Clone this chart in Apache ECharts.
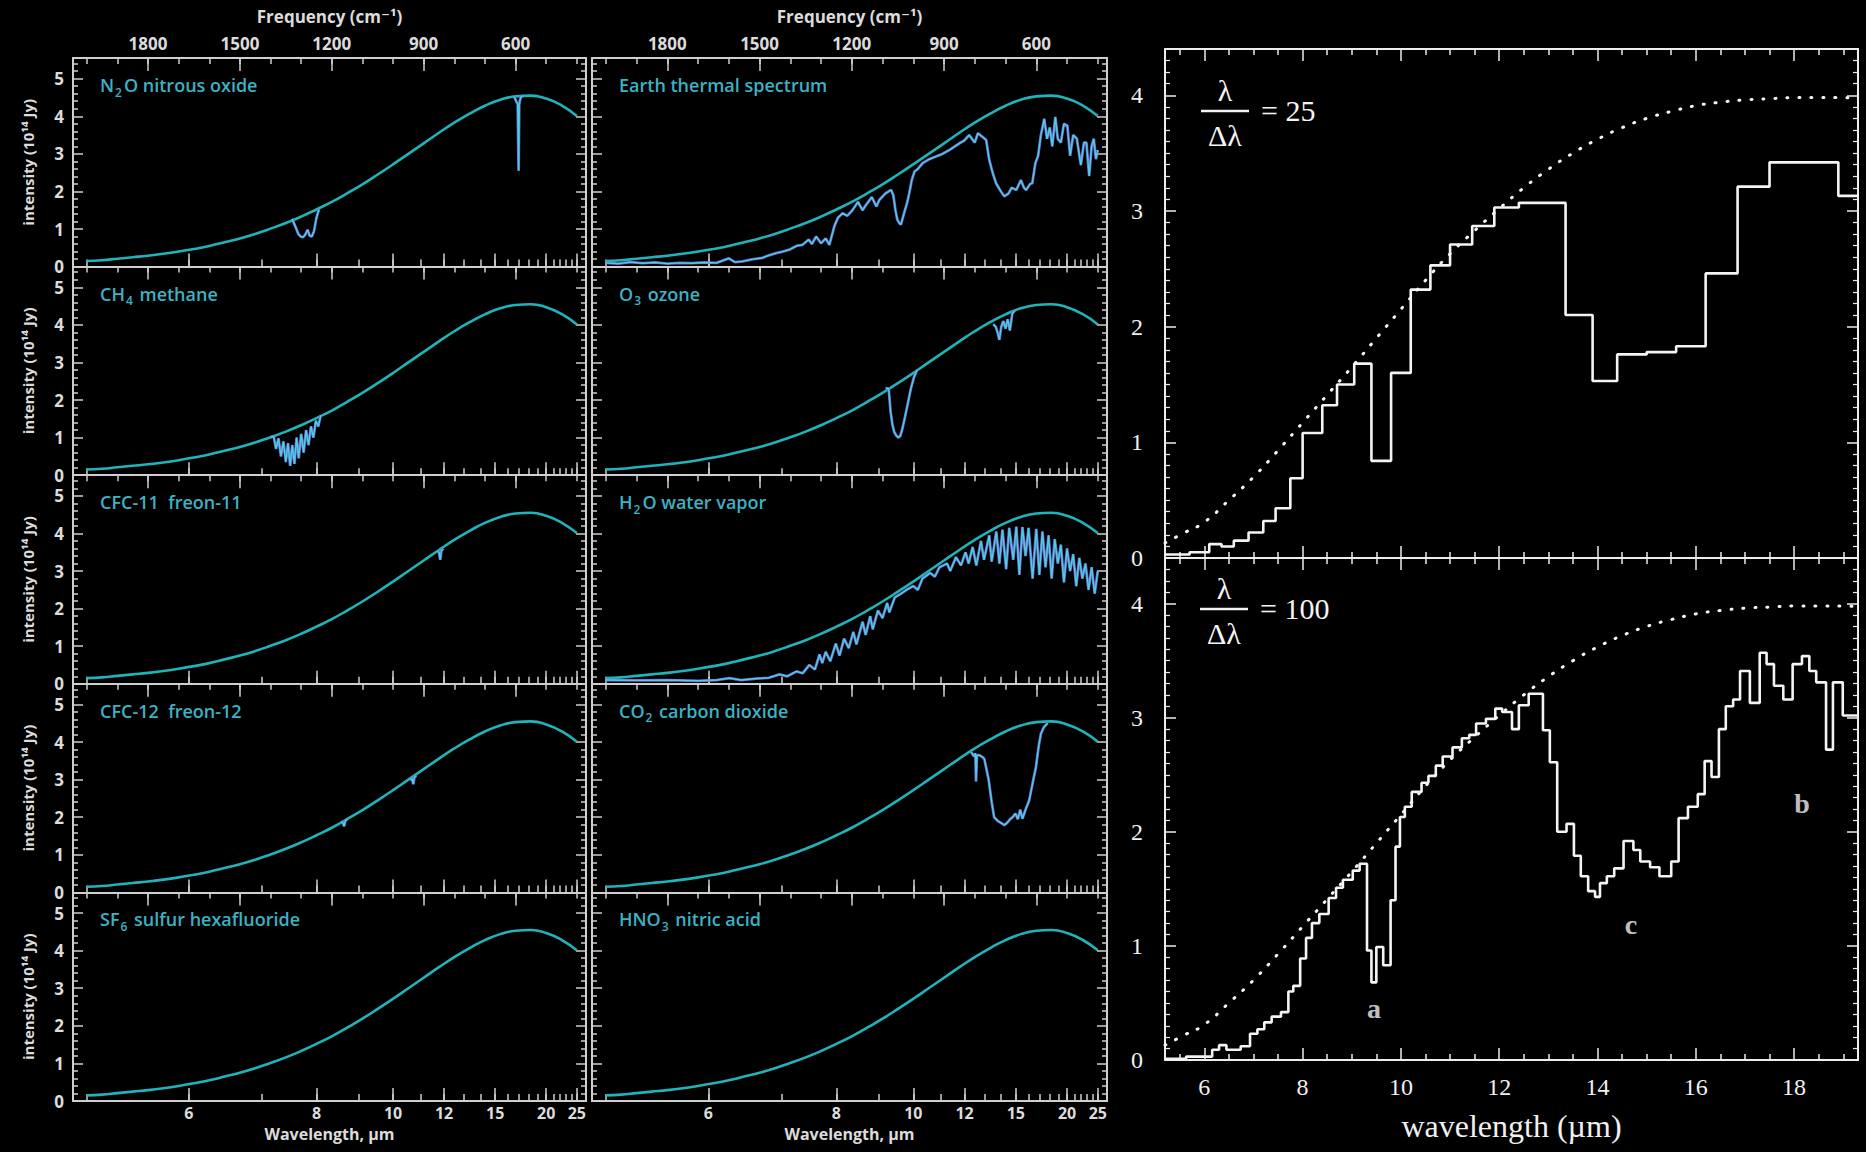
<!DOCTYPE html>
<html>
<head>
<meta charset="utf-8">
<script src="https://cdn.jsdelivr.net/npm/echarts@6/dist/echarts.min.js"></script>
<style>
html,body{margin:0;padding:0;background:#000;}
#c{width:1866px;height:1152px;}
</style>
</head>
<body>
<div id="c"></div>
<script>
// ---------------- DATA ----------------
// Left two columns: x = frequency (cm^-1), y = intensity
const wavenumber = [400,450,500,550,600,650,700,750,800,850,900,950,1000,1050,1100,1150,1200,1250,1300,1350,1400,1450,1500,1550,1600,1650,1700,1750,1800,1850,1900,1950,2000];
const blackbodyIntensity = [4.01,4.29,4.47,4.55,4.53,4.44,4.28,4.07,3.83,3.56,3.28,3.00,2.72,2.45,2.19,1.95,1.72,1.52,1.33,1.16,1.01,0.87,0.75,0.65,0.55,0.47,0.40,0.34,0.29,0.25,0.21,0.17,0.15];

// absorption features (null separates bands)
const n2oFreq = [1330,1318,1310,1302,1294,1286,1279,1272,1265,1258,1250,1242,null,604,597,593,590,588,586,582,575];
const n2oIntensity = [1.27,1.05,0.88,0.8,0.78,0.86,0.98,0.82,0.8,0.95,1.3,1.52,null,4.52,4.38,4.33,2.55,4.3,4.42,4.52,4.54];

const earthFreq = [2000,1960,1920,1880,1840,1800,1760,1720,1680,1640,1600,1580,1556,1520,1491,1470,1446,1425,1403,1380,1360,1340,1330,1316,1300,1285,1273,1257,1245,1230,1215,1198,1180,1165,1153,1135,1120,1110,1090,1072,1065,1058,1052,1045,1040,1030,1020,1013,1005,996,985,970,950,926,905,883,865,850,835,818,800,790,775,763,753,742,731,715,704,690,680,665,650,640,633,620,613,603,594,585,574,565,556,548,538,530,520,510,499,490,480,468,455,445,437,428,420,413,406,400];
const earthIntensity = [0.1,0.08,0.12,0.09,0.11,0.08,0.1,0.09,0.11,0.1,0.22,0.12,0.14,0.2,0.23,0.3,0.36,0.4,0.45,0.55,0.58,0.72,0.6,0.8,0.62,0.75,0.58,1.07,1.3,1.42,1.35,1.5,1.72,1.5,1.65,1.85,1.6,1.78,1.95,2.04,1.9,1.5,1.25,1.15,1.12,1.42,1.7,1.96,2.3,2.53,2.6,2.75,2.85,2.93,3.0,3.1,3.2,3.28,3.35,3.5,3.3,3.55,3.45,3.37,2.84,2.5,2.22,2.0,1.87,1.95,2.1,2.04,2.3,2.1,2.04,2.2,2.22,2.75,2.95,3.5,3.93,3.4,3.7,3.2,3.98,3.4,3.3,3.8,3.75,2.95,3.5,3.4,2.7,3.3,3.3,2.41,3.2,3.4,2.86,3.1];

const ch4Freq = [1400,1390,1382,1374,1366,1358,1350,1343,1336,1329,1322,1315,1308,1300,1292,1284,1276,1268,1260,1252,1244,1236];
const ch4Intensity = [1.01,1.04,0.7,0.98,0.5,0.9,0.35,0.85,0.25,0.8,0.3,1.0,0.45,1.1,0.6,1.2,0.8,1.3,1.0,1.45,1.3,1.6];

const o3Freq = [1090,1080,1074,1068,1062,1055,1048,1042,1035,1027,1018,1008,998,988,null,740,732,726,720,714,707,700,693,686,678,670];
const o3Intensity = [2.32,2.3,1.7,1.35,1.15,1.05,1.0,1.05,1.25,1.55,1.9,2.3,2.6,2.8,null,4.02,3.95,3.8,3.6,3.95,4.1,3.9,4.15,3.85,4.3,4.38];

const cfc11Freq = [856,850,846,842,836];
const cfc11Intensity = [3.53,3.5,3.3,3.55,3.59];

const h2oFreq = [2000,1900,1800,1700,1640,1598,1560,1510,1470,1435,1410,1380,1360,1338,1320,1305,1296,1285,1270,1252,1240,1225,1210,1195,1185,1165,1155,1140,1132,1115,1100,1085,1078,1060,1040,1022,1000,985,970,945,930,915,890,880,861,845,830,820,807,795,780,770,753,745,730,720,710,698,688,675,665,655,645,635,625,612,600,590,580,570,560,550,540,530,520,510,500,490,480,470,460,450,440,430,420,410,400];
const h2oIntensity = [0.1,0.09,0.1,0.08,0.1,0.15,0.1,0.14,0.16,0.25,0.2,0.33,0.28,0.5,0.38,0.78,0.55,0.85,0.6,1.07,0.75,1.2,0.95,1.38,1.05,1.65,1.3,1.8,1.45,1.95,1.75,2.15,1.9,2.3,2.4,2.5,2.6,2.5,2.8,2.95,2.85,3.1,3.2,3.0,3.37,3.15,3.5,3.2,3.64,3.15,3.8,3.3,3.95,3.25,4.05,3.2,4.1,3.05,4.15,3.3,4.18,2.9,4.17,3.4,4.15,2.8,4.12,2.9,4.05,3.1,3.95,2.8,3.85,3.2,3.7,2.7,3.6,3.0,3.45,2.6,3.35,2.8,3.2,2.5,3.1,2.4,3.0];

const cfc12Freq = [1170,1164,1160,1156,1150,null,945,938,934,930,924];
const cfc12Intensity = [1.88,1.86,1.76,1.9,1.95,null,3.0,3.02,2.88,3.07,3.1];

const co2Freq = [812,802,798,796,793,785,775,769,755,745,737,725,715,704,695,685,677,668,660,652,645,635,623,612,601,592,585,575,563];
const co2Intensity = [3.73,3.62,3.7,2.95,3.65,3.65,3.6,3.55,3.0,2.4,2.0,1.9,1.85,1.79,1.85,1.95,2.0,2.1,1.95,2.2,1.96,2.2,2.45,2.9,3.34,3.9,4.22,4.4,4.5];

const panelLabels = [
  '{t|N}{s|2}{t|O nitrous oxide}',
  '{t|Earth thermal spectrum}',
  '{t|CH}{s|4}{t| methane}',
  '{t|O}{s|3}{t| ozone}',
  '{t|CFC-11  freon-11}',
  '{t|H}{s|2}{t|O water vapor}',
  '{t|CFC-12  freon-12}',
  '{t|CO}{s|2}{t| carbon dioxide}',
  '{t|SF}{s|6}{t| sulfur hexafluoride}',
  '{t|HNO}{s|3}{t| nitric acid}'
];

// tick labels
const wavelengthLabelTicks = [6,8,10,12,15,20,25];
const wavelengthSmallTicks = [5,6,7,8,9,10,11,12,13,14,15,16,17,18,19,20,21,22,23,24,25];
const frequencyLabelTicks = [1800,1500,1200,900,600];
const frequencySmallTicks = [2000,1900,1800,1700,1600,1500,1400,1300,1200,1100,1000,900,800,700,600,500,400];

// Right chart: x = wavelength (µm)
const rightMajorTicks = [6,8,10,12,14,16,18];
const rightMinorTicks = [5.5,6.5,7,7.5,8.5,9,9.5,10.5,11,11.5,12.5,13,13.5,14.5,15,15.5,16.5,17,17.5,18.5,19];

const bbWave = [5.2,5.6,6,6.5,7,7.5,8,8.5,9,9.5,10,10.5,11,11.5,12,12.5,13,13.5,14,14.5,15,15.5,16,16.5,17,17.5,18,18.5,19,19.3];
const bbIntensity = [0.13,0.22,0.31,0.5,0.7,0.93,1.17,1.41,1.65,1.9,2.15,2.4,2.63,2.83,3.02,3.2,3.36,3.5,3.62,3.72,3.8,3.86,3.91,3.94,3.96,3.97,3.98,3.98,3.98,3.97];

const edgesR25 = [5.2,5.7,6.1,6.35,6.6,6.9,7.2,7.45,7.75,8.0,8.4,8.7,9.05,9.4,9.8,10.2,10.6,11.0,11.45,11.9,12.4,13.35,13.9,14.4,15.0,15.6,16.2,16.85,17.5,18.9,19.3];
const levelsR25 = [0.03,0.05,0.12,0.1,0.15,0.22,0.32,0.43,0.69,1.08,1.32,1.5,1.68,0.84,1.6,2.32,2.53,2.71,2.87,3.03,3.07,2.1,1.53,1.76,1.78,1.83,2.46,3.21,3.42,3.13];

const edgesR100 = [5.2,5.63,6.16,6.30,6.45,6.74,6.93,7.08,7.22,7.37,7.56,7.71,7.81,7.95,8.07,8.19,8.34,8.53,8.68,8.82,9.02,9.16,9.31,9.40,9.50,9.64,9.79,9.89,9.98,10.08,10.22,10.42,10.56,10.71,10.85,11.05,11.24,11.39,11.53,11.73,11.92,12.06,12.26,12.40,12.60,12.89,13.03,13.18,13.37,13.52,13.66,13.81,13.95,14.05,14.19,14.34,14.53,14.73,14.87,15.07,15.26,15.50,15.65,15.84,16.04,16.18,16.32,16.47,16.61,16.76,16.90,17.10,17.30,17.44,17.59,17.78,17.97,18.16,18.31,18.45,18.65,18.79,18.99,19.3];
const levelsR100 = [0.01,0.03,0.09,0.13,0.09,0.12,0.23,0.27,0.33,0.38,0.42,0.6,0.65,0.89,1.07,1.2,1.28,1.42,1.51,1.58,1.66,1.72,0.96,0.68,0.99,0.83,1.4,1.87,2.13,2.22,2.35,2.43,2.49,2.58,2.66,2.74,2.82,2.85,2.95,2.99,3.08,3.05,2.9,3.11,3.21,2.89,2.61,2.0,2.07,1.79,1.61,1.48,1.43,1.55,1.61,1.68,1.92,1.84,1.74,1.69,1.61,1.74,2.12,2.22,2.33,2.62,2.48,2.9,3.1,3.16,3.41,3.13,3.57,3.47,3.28,3.16,3.47,3.54,3.41,3.31,2.72,3.31,3.02];

const annotationLetters = ['a','c','b'];
const annotationWave = [9.45,14.68,18.16];
const annotationIntensity = [0.45,1.19,2.25];

// ---------------- CHART ----------------
const FREQ_MIN = 370, FREQ_MAX = 2045;
const LAMBDA_MIN = 5.2, LAMBDA_MAX = 19.3;
const sans = '"Open Sans", "DejaVu Sans", sans-serif';
const serif = '"Liberation Serif", "DejaVu Serif", serif';
const frameL = '#cfcfcf';
const frameR = '#ededed';
const textL = '#dcdcdc';
const labelColor = '#3cb2c6';
const toWn = um => 10000 / um;

const panelSpectra = [
  [n2oFreq, n2oIntensity], [earthFreq, earthIntensity],
  [ch4Freq, ch4Intensity], [o3Freq, o3Intensity],
  [cfc11Freq, cfc11Intensity], [h2oFreq, h2oIntensity],
  [cfc12Freq, cfc12Intensity], [co2Freq, co2Intensity],
  null, null
];

function segments(fr, iv) {
  const out = []; let cur = [];
  fr.forEach((f, i) => {
    if (f === null) { if (cur.length) out.push(cur); cur = []; }
    else cur.push([f, iv[i]]);
  });
  if (cur.length) out.push(cur);
  return out;
}
function stepData(edges, levels) {
  const d = levels.map((v, i) => [edges[i], v]);
  d.push([edges[edges.length - 1], levels[levels.length - 1]]);
  return d;
}

const grid = [], xAxis = [], yAxis = [], series = [], title = [];
const PANEL_TOP = 58, PANEL_H = 208.6;

function tickAxis(g, pos, min, max, inverse, ticks, len, color, withLine, label, name, nameGap, nameStyle) {
  return {
    gridIndex: g, type: 'value', position: pos, min: min, max: max, inverse: inverse,
    axisLine: { show: withLine, onZero: false, lineStyle: { color: color, width: 2 } },
    axisTick: { show: true, inside: true, length: len, customValues: ticks, lineStyle: { color: color, width: 1.5 } },
    axisLabel: label || { show: false },
    splitLine: { show: false },
    name: name || '', nameLocation: 'middle', nameGap: nameGap || 0, nameTextStyle: nameStyle || {}
  };
}

for (let p = 0; p < 10; p++) {
  const r = Math.floor(p / 2), c = p % 2;
  const left = c === 0 ? 73 : 592;
  const width = c === 0 ? 513 : 515;
  const top = PANEL_TOP + r * PANEL_H;
  grid.push({ left: left, top: top, width: width, height: PANEL_H, containLabel: false });

  const wlTicks = wavelengthLabelTicks.map(toWn);
  // bottom: wavelength ticks (labels on last row)
  xAxis.push(tickAxis(p, 'bottom', FREQ_MIN, FREQ_MAX, true, wlTicks, 13, frameL, true,
    r === 4 ? { show: true, customValues: wlTicks, formatter: v => String(Math.round(10000 / v)),
                color: textL, fontSize: 16, fontWeight: 'bold', fontFamily: sans, margin: 3, lineHeight: 18 } : { show: false },
    r === 4 ? 'Wavelength, µm' : '', 24,
    { color: textL, fontSize: 16, fontWeight: 'bold', fontFamily: sans, lineHeight: 18 }));
  xAxis.push(tickAxis(p, 'bottom', FREQ_MIN, FREQ_MAX, true, wavelengthSmallTicks.map(toWn), 7, frameL, false));
  // top: frequency ticks (labels on first row)
  xAxis.push(tickAxis(p, 'top', FREQ_MIN, FREQ_MAX, true, frequencyLabelTicks, 13, frameL, true,
    r === 0 ? { show: true, customValues: frequencyLabelTicks, formatter: v => String(Math.round(v)),
                color: textL, fontSize: 17, fontWeight: 'bold', fontFamily: sans, margin: 6 } : { show: false },
    r === 0 ? 'Frequency (cm⁻¹)' : '', 33,
    { color: textL, fontSize: 17, fontWeight: 'bold', fontFamily: sans }));
  xAxis.push(tickAxis(p, 'top', FREQ_MIN, FREQ_MAX, true, frequencySmallTicks, 6, frameL, false));

  const yCommon = {
    gridIndex: p, type: 'value', min: 0, max: 5.55, interval: 1,
    axisLine: { show: true, onZero: false, lineStyle: { color: frameL, width: 2 } },
    axisTick: { show: true, inside: true, length: 10, lineStyle: { color: frameL, width: 1.5 } },
    minorTick: { show: true, splitNumber: 5, length: 5, lineStyle: { color: frameL, width: 1.5 } },
    splitLine: { show: false }, minorSplitLine: { show: false }
  };
  yAxis.push(Object.assign({}, yCommon, {
    position: 'left',
    axisLabel: { show: c === 0, showMaxLabel: false, formatter: v => (Math.abs(v - Math.round(v)) < 1e-6 ? String(v) : ''),
                 color: textL, fontSize: 17, fontWeight: 'bold', fontFamily: sans, margin: 9 },
    name: c === 0 ? 'intensity (10¹⁴ Jy)' : '', nameLocation: 'middle', nameGap: 38, nameRotate: 90,
    nameTextStyle: { color: textL, fontSize: 15, fontWeight: 'bold', fontFamily: sans }
  }));
  yAxis.push(Object.assign({}, yCommon, { position: 'right', axisLabel: { show: false } }));

  title.push({
    text: panelLabels[p], left: left + 27, top: top + 18, padding: 0,
    textStyle: { rich: {
      t: { fontSize: 18, fontWeight: 600, color: labelColor, fontFamily: sans, lineHeight: 22, verticalAlign: 'top' },
      s: { fontSize: 12, fontWeight: 600, color: labelColor, fontFamily: sans, lineHeight: 12, verticalAlign: 'bottom', padding: [12, 2, 0, 1] }
    } }
  });

  series.push({
    type: 'line', xAxisIndex: p * 4, yAxisIndex: p * 2, silent: true,
    data: wavenumber.map((w, i) => [w, blackbodyIntensity[i]]),
    smooth: true, showSymbol: false, z: 3,
    lineStyle: { color: '#1fb4b9', width: 2.6 }
  });
  const spec = panelSpectra[p];
  if (spec) {
    segments(spec[0], spec[1]).forEach(seg => {
      series.push({ type: 'line', xAxisIndex: p * 4, yAxisIndex: p * 2, silent: true, data: seg,
        showSymbol: false, z: 4, lineStyle: { color: '#7a62d4', width: 2.8, opacity: 0.95 } });
      series.push({ type: 'line', xAxisIndex: p * 4, yAxisIndex: p * 2, silent: true, data: seg,
        showSymbol: false, z: 5, lineStyle: { color: '#45d3e0', width: 1.4 } });
    });
  }
}

// Right chart: two stacked panels
const rightGrids = [{ top: 49, height: 509 }, { top: 558, height: 502 }];
rightGrids.forEach((rg, k) => {
  const g = 10 + k;
  grid.push({ left: 1165, width: 693, top: rg.top, height: rg.height, containLabel: false });
  const last = k === 1;
  xAxis.push(tickAxis(g, 'bottom', LAMBDA_MIN, LAMBDA_MAX, false, rightMajorTicks, 12, frameR, true,
    last ? { show: true, customValues: rightMajorTicks, color: '#f0f0f0', fontSize: 24, fontFamily: serif, margin: 15 } : { show: false },
    last ? 'wavelength (µm)' : '', 50,
    { color: '#f0f0f0', fontSize: 32, fontFamily: serif }));
  xAxis.push(tickAxis(g, 'bottom', LAMBDA_MIN, LAMBDA_MAX, false, rightMinorTicks, 6, frameR, false));
  xAxis.push(tickAxis(g, 'top', LAMBDA_MIN, LAMBDA_MAX, false, rightMajorTicks, 12, frameR, true));
  xAxis.push(tickAxis(g, 'top', LAMBDA_MIN, LAMBDA_MAX, false, rightMinorTicks, 6, frameR, false));
  const yC = {
    gridIndex: g, type: 'value', min: 0, max: 4.4, interval: 1,
    axisLine: { show: true, onZero: false, lineStyle: { color: frameR, width: 2 } },
    axisTick: { show: true, inside: true, length: 11, lineStyle: { color: frameR, width: 1.5 } },
    minorTick: { show: true, splitNumber: 10, length: 5, lineStyle: { color: frameR, width: 1.2 } },
    splitLine: { show: false }, minorSplitLine: { show: false }
  };
  yAxis.push(Object.assign({}, yC, { position: 'left',
    axisLabel: { show: true, showMaxLabel: false, formatter: v => (Math.abs(v - Math.round(v)) < 1e-6 ? String(v) : ''),
                 color: '#f0f0f0', fontSize: 24, fontFamily: serif, margin: 22 } }));
  yAxis.push(Object.assign({}, yC, { position: 'right', axisLabel: { show: false } }));

  series.push({
    type: 'line', xAxisIndex: g * 4, yAxisIndex: g * 2, silent: true,
    data: bbWave.map((w, i) => [w, bbIntensity[i]]), smooth: true, showSymbol: false, z: 3,
    lineStyle: { color: '#f4f4f4', width: 3, type: [1, 11], cap: 'round' }
  });
  series.push({
    type: 'line', xAxisIndex: g * 4, yAxisIndex: g * 2, silent: true, step: 'end', showSymbol: false, z: 4,
    data: k === 0 ? stepData(edgesR25, levelsR25) : stepData(edgesR100, levelsR100),
    lineStyle: { color: '#f4f4f4', width: 2.6 }
  });
});
series.push({
  type: 'scatter', xAxisIndex: 44, yAxisIndex: 22, silent: true, symbolSize: 0,
  itemStyle: { color: '#f4f4f4' },
  data: annotationWave.map((w, i) => ({ value: [w, annotationIntensity[i]], name: annotationLetters[i] })),
  label: { show: true, position: 'inside', formatter: p => p.name, color: '#f4f4f4',
           textBorderWidth: 0, fontSize: 28, fontWeight: 'bold', fontFamily: serif }
});

// λ/Δλ fraction labels
function fraction(cx, cy, value) {
  const st = (t, x, y, align) => ({ type: 'text', x: x, y: y, silent: true,
    style: { text: t, fill: '#f4f4f4', font: '30px ' + serif, textAlign: align || 'center', textVerticalAlign: 'middle' } });
  return [
    st('λ', cx, cy - 21),
    { type: 'line', silent: true, shape: { x1: cx - 24, y1: cy, x2: cx + 24, y2: cy }, style: { stroke: '#f4f4f4', lineWidth: 2.5 } },
    st('Δλ', cx, cy + 24),
    st('= ' + value, cx + 36, cy - 1, 'left')
  ];
}

const option = {
  backgroundColor: '#000000',
  animation: false,
  grid: grid, xAxis: xAxis, yAxis: yAxis, series: series, title: title,
  graphic: { elements: fraction(1225, 111, '25').concat(fraction(1224, 609, '100')) }
};

const chart = echarts.init(document.getElementById('c'), null, { renderer: 'svg' });
chart.setOption(option);
</script>
</body>
</html>
